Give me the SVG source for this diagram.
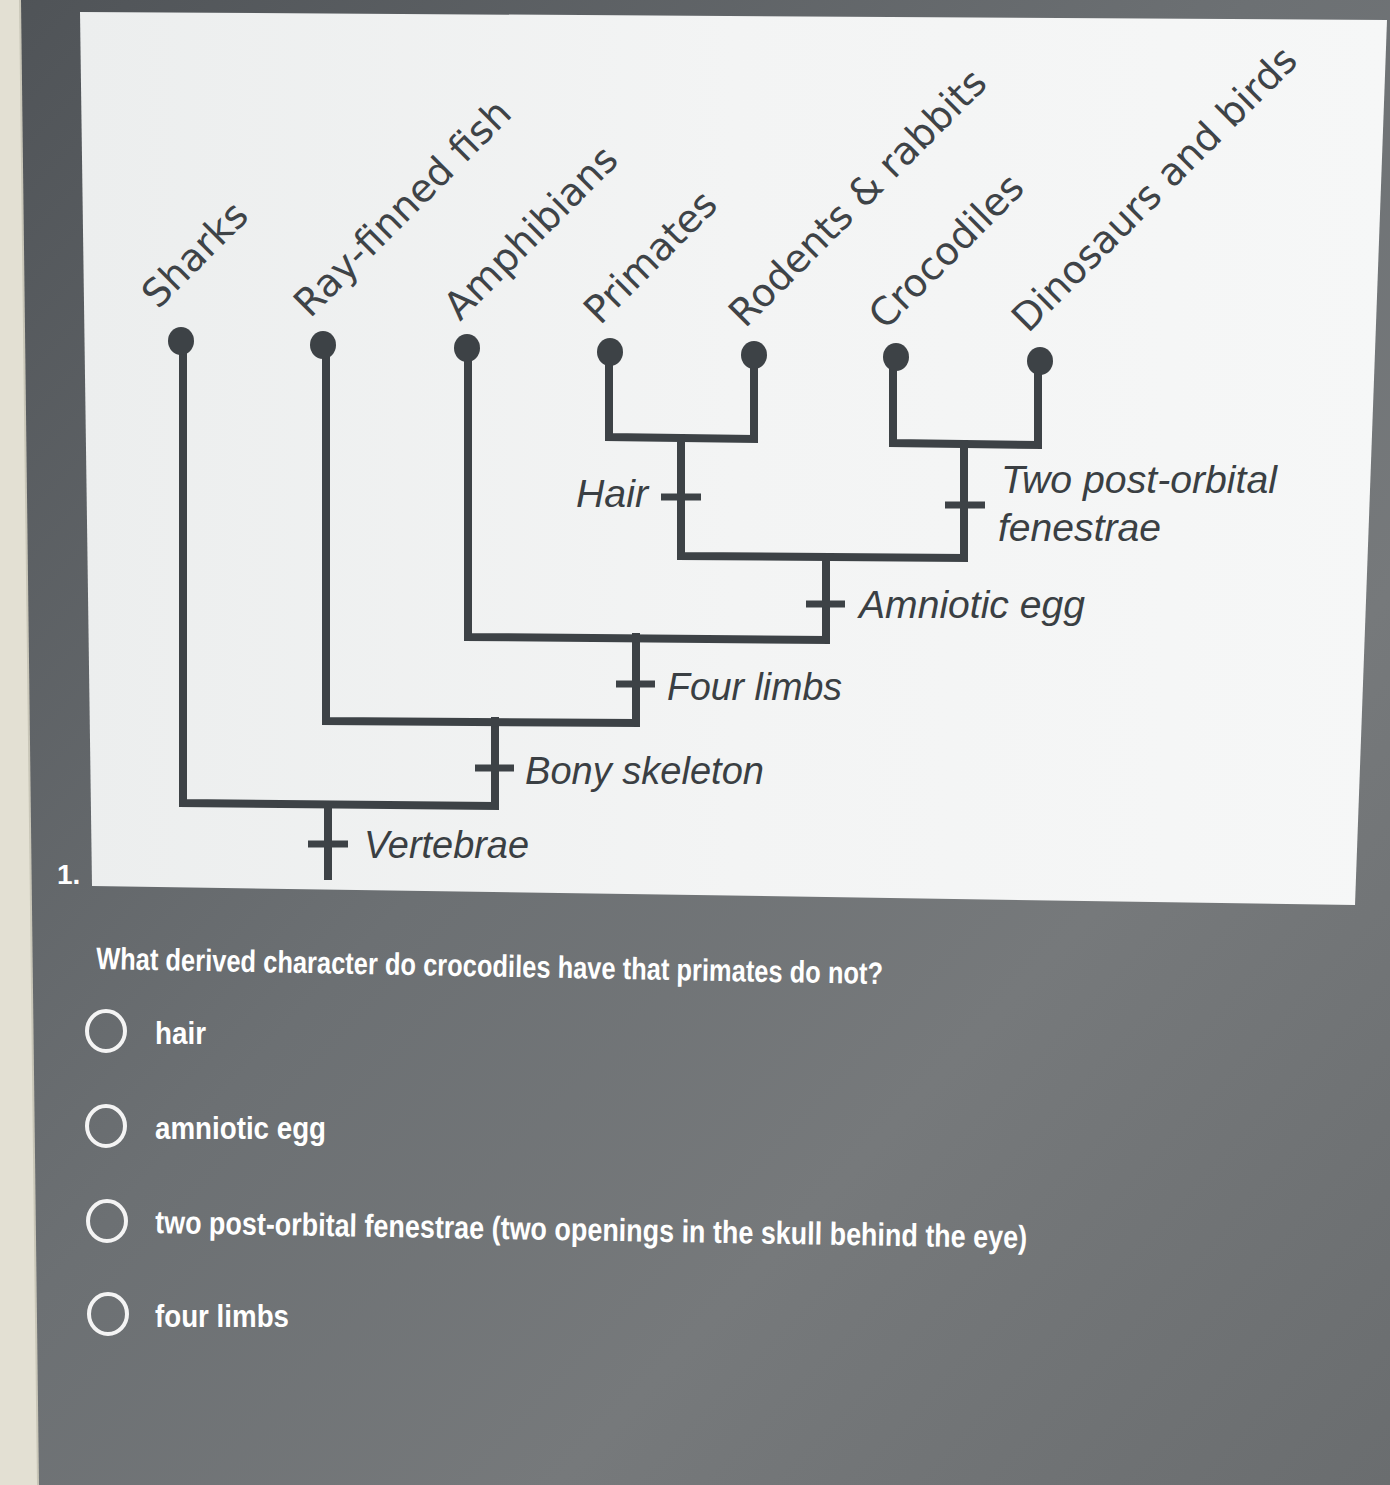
<svg xmlns="http://www.w3.org/2000/svg" width="1390" height="1485" viewBox="0 0 1390 1485">
  <defs>
    <linearGradient id="bg" x1="0" y1="0" x2="1" y2="1">
      <stop offset="0" stop-color="#4f5357"/>
      <stop offset="0.45" stop-color="#6c7073"/>
      <stop offset="0.7" stop-color="#76797b"/>
      <stop offset="1" stop-color="#6a6d6f"/>
    </linearGradient>
    <linearGradient id="panel" x1="0" y1="0" x2="1" y2="0">
      <stop offset="0" stop-color="#eceeee"/>
      <stop offset="0.5" stop-color="#f3f4f4"/>
      <stop offset="1" stop-color="#f6f7f7"/>
    </linearGradient>
    <style>
      .ln { stroke: #3d4246; stroke-width: 8; fill: none; stroke-linecap: square; }
      .tick { stroke: #3d4246; stroke-width: 7; fill: none; }
      .dot { fill: #3d4246; }
      .leaf { font-family: "DejaVu Sans", Verdana, sans-serif; font-size: 38.5px; fill: #3e4347; }
      .trait { font-family: "Liberation Sans", Arial, sans-serif; font-style: italic; font-size: 38px; fill: #3a3f43; }
      .q { font-family: "Liberation Sans Narrow", "Liberation Sans", Arial, sans-serif; font-weight: bold; fill: #ffffff; }
      .radio { fill: none; stroke: #f4f4f4; stroke-width: 4; }
    </style>
  </defs>

  <!-- background -->
  <rect x="0" y="0" width="1390" height="1485" fill="url(#bg)"/>
  <polygon points="0,0 20,0 38,1485 0,1485" fill="#e3e0d3"/>
  <line x1="20" y1="0" x2="38" y2="1485" stroke="#c9c6b8" stroke-width="2"/>

  <!-- white panel -->
  <polygon points="80,12 1387,20 1355,905 92,886" fill="url(#panel)"/>

  <text x="57" y="884" class="q" font-size="28">1.</text>

  <!-- connectors -->
  <g id="connectors">
    <polyline class="ln" points="183,341 183,803 495,806 495,721"/>
    <polyline class="ln" points="326,345 326,721 636,723 636,637"/>
    <polyline class="ln" points="468,348 468,637 826,640 826,558"/>
    <polyline class="ln" points="609,352 609,437 754,439 754,355"/>
    <polyline class="ln" points="893,357 893,443 1038,445 1038,361"/>
    <polyline class="ln" points="681,438 681,556 964,558 964,444"/>
    <line class="ln" x1="328" y1="805" x2="328" y2="876"/>
  </g>

  <!-- leaves -->
  <g id="sharks">
    <ellipse class="dot" cx="181" cy="341" rx="13" ry="14"/>
    <text class="leaf" transform="translate(158,310) rotate(-45)">Sharks</text>
  </g>
  <g id="ray-finned-fish">
    <ellipse class="dot" cx="323" cy="345" rx="13" ry="14"/>
    <text class="leaf" transform="translate(310,319) rotate(-45)">Ray-finned fish</text>
  </g>
  <g id="amphibians">
    <ellipse class="dot" cx="467" cy="348" rx="13" ry="14"/>
    <text class="leaf" transform="translate(460,322) rotate(-45)">Amphibians</text>
  </g>
  <g id="primates">
    <ellipse class="dot" cx="610" cy="352" rx="13" ry="14"/>
    <text class="leaf" transform="translate(600,326) rotate(-45)">Primates</text>
  </g>
  <g id="rodents-rabbits">
    <ellipse class="dot" cx="754" cy="355" rx="13" ry="14"/>
    <text class="leaf" transform="translate(745,329) rotate(-45)">Rodents &amp; rabbits</text>
  </g>
  <g id="crocodiles">
    <ellipse class="dot" cx="896" cy="357" rx="13" ry="14"/>
    <text class="leaf" transform="translate(885,331) rotate(-45)">Crocodiles</text>
  </g>
  <g id="dinosaurs-birds">
    <ellipse class="dot" cx="1040" cy="361" rx="13" ry="14"/>
    <text class="leaf" transform="translate(1028,334) rotate(-45)">Dinosaurs and birds</text>
  </g>

  <!-- traits -->
  <g id="vertebrae">
    <line class="tick" x1="308" y1="844" x2="348" y2="844"/>
    <text class="trait" x="364" y="858" textLength="165" lengthAdjust="spacingAndGlyphs">Vertebrae</text>
  </g>
  <g id="bony-skeleton">
    <line class="tick" x1="475" y1="768" x2="514" y2="768"/>
    <text class="trait" x="525" y="784" textLength="239" lengthAdjust="spacingAndGlyphs">Bony skeleton</text>
  </g>
  <g id="four-limbs">
    <line class="tick" x1="616" y1="684" x2="655" y2="684"/>
    <text class="trait" x="667" y="700" textLength="175" lengthAdjust="spacingAndGlyphs">Four limbs</text>
  </g>
  <g id="amniotic-egg">
    <line class="tick" x1="806" y1="604" x2="845" y2="604"/>
    <text class="trait" x="859" y="618" textLength="226" lengthAdjust="spacingAndGlyphs">Amniotic egg</text>
  </g>
  <g id="hair">
    <line class="tick" x1="661" y1="497" x2="701" y2="497"/>
    <text class="trait" x="576" y="507" textLength="72" lengthAdjust="spacingAndGlyphs">Hair</text>
  </g>
  <g id="two-post-orbital-fenestrae">
    <line class="tick" x1="945" y1="505" x2="985" y2="505"/>
    <text class="trait" x="1001" y="493" textLength="276" lengthAdjust="spacingAndGlyphs">Two post-orbital</text>
    <text class="trait" x="998" y="541" textLength="163" lengthAdjust="spacingAndGlyphs">fenestrae</text>
  </g>

  <!-- question -->
  <g id="question">
    <text class="q" font-size="31" transform="translate(96,969) rotate(1.1)" textLength="787" lengthAdjust="spacingAndGlyphs">What derived character do crocodiles have that primates do not?</text>
  </g>
  <g id="option-hair">
    <ellipse class="radio" cx="106" cy="1031" rx="19" ry="20"/>
    <text class="q" font-size="32" x="155" y="1044" textLength="51" lengthAdjust="spacingAndGlyphs">hair</text>
  </g>
  <g id="option-amniotic-egg">
    <ellipse class="radio" cx="106" cy="1126" rx="19" ry="20"/>
    <text class="q" font-size="32" x="155" y="1139" textLength="171" lengthAdjust="spacingAndGlyphs">amniotic egg</text>
  </g>
  <g id="option-fenestrae">
    <ellipse class="radio" cx="107" cy="1221" rx="19" ry="20"/>
    <text class="q" font-size="32" transform="translate(155,1233) rotate(1.0)" textLength="872" lengthAdjust="spacingAndGlyphs">two post-orbital fenestrae (two openings in the skull behind the eye)</text>
  </g>
  <g id="option-four-limbs">
    <ellipse class="radio" cx="108" cy="1314" rx="19" ry="20"/>
    <text class="q" font-size="32" x="155" y="1327" textLength="134" lengthAdjust="spacingAndGlyphs">four limbs</text>
  </g>
</svg>
